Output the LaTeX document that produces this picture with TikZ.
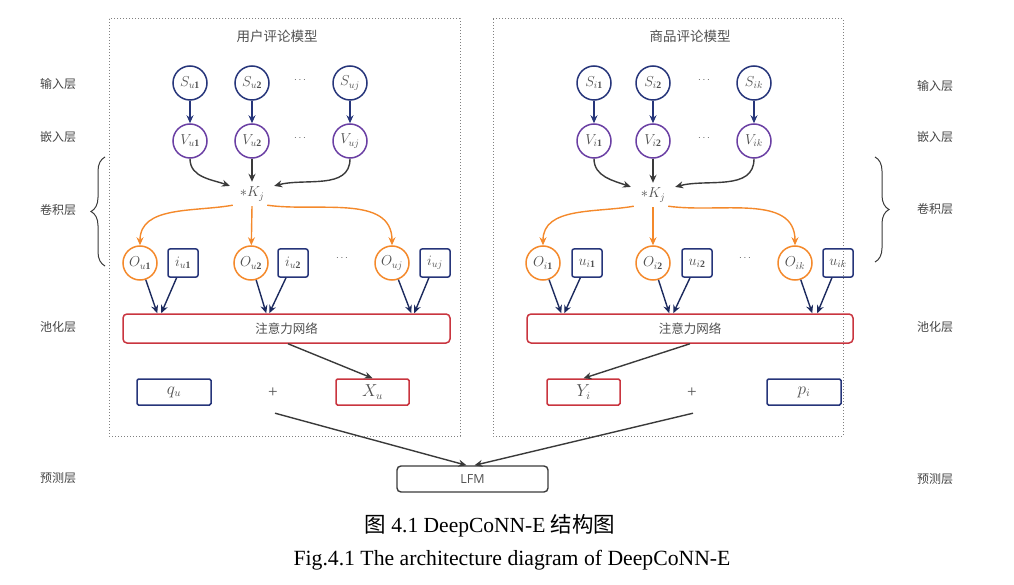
\documentclass[tikz,border=0pt]{standalone}
\usepackage{fontspec}
\setmainfont{Liberation Serif}
\newfontfamily\cjk{Noto Sans CJK SC}
\newfontfamily\sansf{Open Sans}
\usetikzlibrary{arrows.meta,calc,decorations.pathreplacing}
\definecolor{navy}{HTML}{26357A}
\definecolor{darknavy}{HTML}{1C2A5E}
\definecolor{purp}{HTML}{6A3FA3}
\definecolor{orng}{HTML}{F4892B}
\definecolor{redb}{HTML}{C9353F}
\definecolor{darr}{HTML}{3A3A3A}
\definecolor{txt}{HTML}{505050}
\definecolor{lbl}{HTML}{444444}
\begin{document}
\begin{tikzpicture}[x=1pt,y=1pt,
  mfont/.style={font=\fontsize{14}{16}\selectfont, text=txt},
  sc/.style={circle, draw=navy, line width=1.5pt, minimum size=34pt, inner sep=0pt, mfont},
  vc/.style={circle, draw=purp, line width=1.5pt, minimum size=34pt, inner sep=0pt, mfont},
  oc/.style={circle, draw=orng, line width=1.5pt, minimum size=34pt, inner sep=0pt, mfont},
  ib/.style={draw=navy, line width=1.5pt, rounded corners=2pt, minimum width=30pt, minimum height=28pt, inner sep=0pt, mfont},
  nvb/.style={draw=navy, line width=1.5pt, rounded corners=1.5pt, minimum width=74pt, minimum height=26pt, inner sep=0pt, font=\fontsize{16}{18}\selectfont, text=txt},
  rvb/.style={draw=redb, line width=1.5pt, rounded corners=1.5pt, minimum width=73pt, minimum height=26pt, inner sep=0pt, font=\fontsize{16}{18}\selectfont, text=txt},
  attb/.style={draw=redb, line width=1.5pt, rounded corners=4pt, minimum width=327pt, minimum height=29pt, inner sep=0pt, font=\cjk\fontsize{12.5}{14}\selectfont, text=txt},
  kn/.style={minimum width=44pt, minimum height=24pt, inner sep=0pt, mfont},
  dotsn/.style={inner sep=0pt, font=\fontsize{10}{10}\selectfont, text=txt},
  plusn/.style={minimum height=40pt, inner sep=0pt, font=\fontsize{17}{18}\selectfont, text=txt},
  ttl/.style={font=\cjk\fontsize{13.5}{15}\selectfont, text=txt},
  layer/.style={font=\cjk\fontsize{12}{14}\selectfont, text=lbl},
  frame/.style={draw=gray, dotted, line width=1pt},
  arr/.style={-{Stealth[length=8pt,width=7pt]}, line width=1.4pt},
  navyarr/.style={arr, draw=navy},
  dnarr/.style={arr, draw=darknavy},
  grarr/.style={arr, draw=darr},
  orarr/.style={arr, draw=orng},
  bracestyle/.style={draw=darr, line width=1pt, decorate}
]
\useasboundingbox (0,0) rectangle (1014,-585);

% frames
\draw[frame] (109,-19) rectangle (460,-436);
\draw[frame] (493,-19) rectangle (843,-436);

% titles
\node[ttl] (t1) at (277,-36) {用户评论模型};
\node[ttl] (t2) at (690,-36) {商品评论模型};

% layer labels
\node[layer] (l1) at (58,-84) {输入层};
\node[layer] (l2) at (58,-137) {嵌入层};
\node[layer] (l3) at (58,-210) {卷积层};
\node[layer] (l4) at (58,-327) {池化层};
\node[layer] (l5) at (58,-478) {预测层};
\node[layer] (r1) at (935,-86) {输入层};
\node[layer] (r2) at (935,-137) {嵌入层};
\node[layer] (r3) at (935,-209) {卷积层};
\node[layer] (r4) at (935,-327) {池化层};
\node[layer] (r5) at (935,-479) {预测层};

% braces
\draw[bracestyle, decoration={brace, amplitude=14pt}] (105,-266) -- (105,-157);
\draw[bracestyle, decoration={brace, amplitude=14pt}] (875,-157) -- (875,-262);

% ===== left model =====
\node[sc] (S1) at (190,-83) {$S_{u\mathbf{1}}$};
\node[sc] (S2) at (252,-83) {$S_{u\mathbf{2}}$};
\node[dotsn] (Sd) at (300,-80) {$\cdots$};
\node[sc] (S3) at (350,-83) {$S_{uj}$};
\node[vc] (V1) at (190,-141) {$V_{u\mathbf{1}}$};
\node[vc] (V2) at (252,-141) {$V_{u\mathbf{2}}$};
\node[dotsn] (Vd) at (300,-138) {$\cdots$};
\node[vc] (V3) at (350,-141) {$V_{uj}$};
\node[kn] (K) at (252,-194) {$*K_j$};
\node[oc] (O1) at (140,-263) {$O_{u\mathbf{1}}$};
\node[ib] (I1) at (183,-263) {$i_{u\mathbf{1}}$};
\node[oc] (O2) at (251,-263) {$O_{u\mathbf{2}}$};
\node[ib] (I2) at (293,-263) {$i_{u\mathbf{2}}$};
\node[dotsn] (Od) at (342,-258) {$\cdots$};
\node[oc] (O3) at (392,-263) {$O_{uj}$};
\node[ib] (I3) at (435,-263) {$i_{uj}$};
\node[attb] (A) at (286.5,-328.5) {注意力网络};
\node[nvb] (Q) at (174,-392) {$q_u$};
\node[plusn] (P1) at (273,-393) {+};
\node[rvb] (X) at (372.5,-392) {$X_u$};

\draw[navyarr] (S1) -- (V1);
\draw[navyarr] (S2) -- (V2);
\draw[navyarr] (S3) -- (V3);
\draw[grarr] (V1) to[out=-90,in=160] (K.160);
\draw[grarr] (V2) -- (K.north);
\draw[grarr] (V3) to[out=-90,in=15] (K.20);
\draw[orarr] ($(K.south west)+(3,1)$) to[out=190,in=90] (O1);
\draw[orarr] (K.south) -- (O2);
\draw[orarr] ($(K.south east)+(-7,1)$) to[out=-8,in=90] (O3);
\draw[dnarr] (O1) -- ($(A.north west)+(35,0)$);
\draw[dnarr] (I1) -- ($(A.north west)+(39,0)$);
\draw[dnarr] (O2) -- ($(A.north west)+(144,0)$);
\draw[dnarr] (I2) -- ($(A.north west)+(147,0)$);
\draw[dnarr] (O3) -- ($(A.north west)+(289,0)$);
\draw[dnarr] (I3) -- ($(A.north west)+(292,0)$);
\draw[grarr] ($(A.south)+(1.5,0)$) -- (X.north);

% ===== right model =====
\node[sc] (SS1) at (594,-83) {$S_{i\mathbf{1}}$};
\node[sc] (SS2) at (653,-83) {$S_{i\mathbf{2}}$};
\node[dotsn] (SSd) at (704,-80) {$\cdots$};
\node[sc] (SS3) at (754,-83) {$S_{ik}$};
\node[vc] (VV1) at (594,-141) {$V_{i\mathbf{1}}$};
\node[vc] (VV2) at (653,-141) {$V_{i\mathbf{2}}$};
\node[dotsn] (VVd) at (704,-138) {$\cdots$};
\node[vc] (VV3) at (754,-141) {$V_{ik}$};
\node[kn] (KK) at (653,-195) {$*K_j$};
\node[oc] (OO1) at (543,-263) {$O_{i\mathbf{1}}$};
\node[ib] (U1) at (587,-263) {$u_{i\mathbf{1}}$};
\node[oc] (OO2) at (653,-263) {$O_{i\mathbf{2}}$};
\node[ib] (U2) at (697,-263) {$u_{i\mathbf{2}}$};
\node[dotsn] (OOd) at (745,-258) {$\cdots$};
\node[oc] (OO3) at (795,-263) {$O_{ik}$};
\node[ib] (U3) at (838,-263) {$u_{ik}$};
\node[attb, minimum width=326pt] (AA) at (690,-328.5) {注意力网络};
\node[rvb] (Y) at (583.5,-392) {$Y_i$};
\node[plusn] (P2) at (692,-393) {+};
\node[nvb] (Pi) at (804,-392) {$p_i$};

\draw[navyarr] (SS1) -- (VV1);
\draw[navyarr] (SS2) -- (VV2);
\draw[navyarr] (SS3) -- (VV3);
\draw[grarr] (VV1) to[out=-90,in=160] (KK.160);
\draw[grarr] (VV2) -- (KK.north);
\draw[grarr] (VV3) to[out=-90,in=15] (KK.20);
\draw[orarr] ($(KK.south west)+(3,1)$) to[out=190,in=90] (OO1);
\draw[orarr] (KK.south) -- (OO2);
\draw[orarr] ($(KK.south east)+(-7,1)$) to[out=-8,in=90] (OO3);
\draw[dnarr] (OO1) -- ($(AA.north west)+(35,0)$);
\draw[dnarr] (U1) -- ($(AA.north west)+(38,0)$);
\draw[dnarr] (OO2) -- ($(AA.north west)+(143,0)$);
\draw[dnarr] (U2) -- ($(AA.north west)+(147,0)$);
\draw[dnarr] (OO3) -- ($(AA.north west)+(286,0)$);
\draw[dnarr] (U3) -- ($(AA.north west)+(291,0)$);
\draw[grarr] (AA.south) -- (Y.north);

% ===== LFM =====
\node[draw=darr, line width=1.4pt, rounded corners=4pt, minimum width=151pt, minimum height=26pt, inner sep=0pt, font=\sansf\fontsize{12.5}{14}\selectfont, text=txt] (L) at (472.5,-479) {LFM};
\draw[grarr] ($(P1.south)+(2,0)$) -- ($(L.north)+(-6,0)$);
\draw[grarr] ($(P2.south)+(1,0)$) -- ($(L.north)+(2,0)$);

% captions
\node[font=\fontsize{21.5}{24}\selectfont] (cap1) at (490,-526) {{\cjk 图} 4.1 DeepCoNN-E {\cjk 结构图}};
\node[font=\fontsize{21.7}{24}\selectfont] (cap2) at (512,-560) {Fig.4.1 The architecture diagram of DeepCoNN-E};
\end{tikzpicture}
\end{document}
